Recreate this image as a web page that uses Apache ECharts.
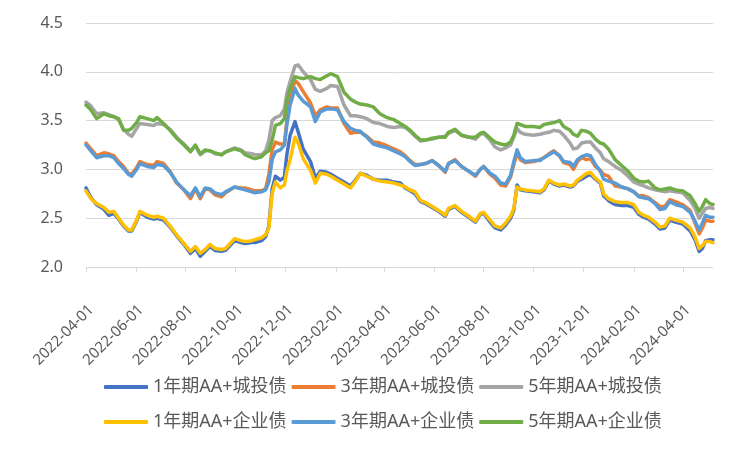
<!DOCTYPE html>
<html><head><meta charset="utf-8">
<script src="https://cdn.jsdelivr.net/npm/echarts@6/dist/echarts.min.js"></script>
<style>html,body{margin:0;padding:0;background:#fff}#c{width:751px;height:451px}</style>
</head><body><div id="c"></div>
<script>
const dates = ['2022-04-01','2022-04-07','2022-04-14','2022-04-23','2022-04-29','2022-05-05','2022-05-11','2022-05-17','2022-05-23','2022-05-27',
'2022-06-02','2022-06-06','2022-06-15','2022-06-23','2022-06-27','2022-07-05','2022-07-13','2022-07-21','2022-07-30','2022-08-01',
'2022-08-07','2022-08-13','2022-08-19','2022-08-25','2022-08-31','2022-09-06','2022-09-14','2022-09-19','2022-09-30','2022-10-08',
'2022-10-13','2022-10-21','2022-10-25','2022-11-02','2022-11-07','2022-11-11','2022-11-15','2022-11-19','2022-11-25','2022-11-30',
'2022-12-03','2022-12-07','2022-12-13','2022-12-17','2022-12-23','2023-01-01','2023-01-07','2023-01-13','2023-01-21','2023-01-26',
'2023-02-03','2023-02-11','2023-02-19','2023-02-25','2023-03-03','2023-03-11','2023-03-19','2023-03-27','2023-04-05','2023-04-13',
'2023-04-21','2023-04-27','2023-05-03','2023-05-09','2023-05-16','2023-05-22','2023-05-30','2023-06-07','2023-06-15','2023-06-19',
'2023-06-27','2023-07-05','2023-07-14','2023-07-22','2023-07-28','2023-08-01','2023-08-09','2023-08-15','2023-08-22','2023-08-28',
'2023-09-03','2023-09-07','2023-09-11','2023-09-15','2023-09-21','2023-10-01','2023-10-09','2023-10-14','2023-10-20','2023-10-26',
'2023-11-02','2023-11-07','2023-11-15','2023-11-19','2023-11-24','2023-11-29','2023-12-05','2023-12-10','2023-12-16','2023-12-22',
'2023-12-26','2024-01-01','2024-01-09','2024-01-17','2024-01-25','2024-02-01','2024-02-07','2024-02-13','2024-02-19','2024-02-27',
'2024-03-04','2024-03-10','2024-03-16','2024-03-23','2024-04-01','2024-04-10','2024-04-16','2024-04-21','2024-04-25','2024-04-29',
'2024-05-04','2024-05-08'];

const chengtou1Y = [2.81,2.71,2.64,2.59,2.53,2.55,2.49,2.42,2.37,2.37,
2.47,2.56,2.51,2.49,2.50,2.48,2.41,2.32,2.23,2.21,
2.14,2.19,2.11,2.16,2.21,2.17,2.16,2.17,2.27,2.25,
2.24,2.25,2.25,2.27,2.31,2.42,2.80,2.93,2.89,2.92,
3.15,3.35,3.49,3.38,3.21,3.08,2.91,2.98,2.97,2.95,
2.91,2.87,2.83,2.89,2.96,2.94,2.90,2.89,2.89,2.87,
2.86,2.81,2.78,2.75,2.67,2.65,2.61,2.57,2.52,2.59,
2.62,2.56,2.51,2.46,2.54,2.55,2.46,2.40,2.38,2.43,
2.50,2.58,2.84,2.79,2.78,2.77,2.76,2.79,2.88,2.85,
2.83,2.84,2.82,2.83,2.88,2.90,2.93,2.95,2.90,2.86,
2.73,2.68,2.64,2.63,2.63,2.61,2.54,2.51,2.49,2.44,
2.39,2.40,2.48,2.46,2.44,2.37,2.28,2.16,2.19,2.27,
2.28,2.28];
const chengtou3Y = [3.27,3.21,3.14,3.17,3.16,3.14,3.08,3.03,2.96,2.95,
3.02,3.08,3.05,3.04,3.08,3.06,2.98,2.86,2.79,2.77,
2.70,2.80,2.70,2.80,2.79,2.74,2.72,2.76,2.82,2.81,
2.81,2.79,2.78,2.78,2.80,2.95,3.20,3.28,3.26,3.26,
3.50,3.72,3.91,3.88,3.80,3.68,3.55,3.61,3.64,3.63,
3.63,3.47,3.37,3.38,3.38,3.34,3.28,3.27,3.24,3.21,
3.18,3.14,3.09,3.05,3.05,3.06,3.09,3.04,2.97,3.06,
3.10,3.03,2.98,2.93,3.00,3.03,2.95,2.91,2.84,2.83,
2.92,3.05,3.17,3.10,3.07,3.08,3.10,3.12,3.16,3.19,
3.14,3.07,3.05,3.00,3.08,3.12,3.10,3.11,3.03,2.99,
2.95,2.93,2.83,2.82,2.80,2.77,2.73,2.73,2.71,2.66,
2.62,2.62,2.69,2.67,2.64,2.58,2.45,2.34,2.40,2.48,
2.47,2.47];
const chengtou5Y = [3.69,3.65,3.57,3.58,3.56,3.54,3.51,3.41,3.36,3.34,
3.42,3.47,3.46,3.45,3.47,3.46,3.41,3.33,3.26,3.25,
3.19,3.24,3.15,3.19,3.19,3.16,3.15,3.18,3.22,3.20,
3.17,3.16,3.15,3.15,3.19,3.30,3.50,3.53,3.55,3.62,
3.78,3.90,4.06,4.07,4.00,3.92,3.82,3.80,3.83,3.86,
3.85,3.66,3.55,3.55,3.54,3.52,3.48,3.47,3.44,3.43,
3.44,3.43,3.39,3.34,3.29,3.30,3.31,3.33,3.34,3.37,
3.40,3.35,3.33,3.31,3.36,3.37,3.30,3.23,3.20,3.22,
3.25,3.33,3.42,3.38,3.36,3.35,3.36,3.37,3.38,3.40,
3.39,3.35,3.27,3.21,3.22,3.27,3.28,3.28,3.22,3.17,
3.11,3.08,3.03,2.99,2.93,2.87,2.85,2.83,2.81,2.79,
2.78,2.77,2.78,2.77,2.76,2.68,2.60,2.50,2.55,2.60,
2.61,2.60];
const qiye1Y = [2.78,2.70,2.65,2.61,2.56,2.57,2.50,2.43,2.38,2.38,
2.48,2.57,2.53,2.51,2.52,2.50,2.42,2.33,2.24,2.22,
2.16,2.21,2.14,2.18,2.23,2.19,2.18,2.19,2.29,2.27,
2.26,2.27,2.28,2.30,2.33,2.40,2.75,2.87,2.81,2.84,
2.98,3.10,3.33,3.27,3.11,2.99,2.86,2.96,2.95,2.93,
2.89,2.85,2.81,2.88,2.96,2.93,2.90,2.88,2.87,2.86,
2.84,2.82,2.79,2.77,2.68,2.66,2.62,2.58,2.53,2.60,
2.63,2.57,2.52,2.47,2.55,2.56,2.48,2.42,2.40,2.45,
2.52,2.60,2.82,2.80,2.79,2.78,2.77,2.80,2.89,2.86,
2.84,2.85,2.83,2.84,2.89,2.92,2.96,2.97,2.91,2.87,
2.75,2.70,2.67,2.66,2.66,2.64,2.56,2.53,2.51,2.46,
2.41,2.42,2.50,2.48,2.46,2.40,2.31,2.19,2.22,2.26,
2.26,2.25];
const qiye3Y = [3.25,3.19,3.12,3.14,3.14,3.12,3.06,3.01,2.95,2.93,
3.00,3.06,3.03,3.02,3.05,3.04,2.97,2.87,2.79,2.79,
2.73,2.81,2.72,2.81,2.80,2.76,2.74,2.77,2.82,2.80,
2.79,2.77,2.76,2.77,2.79,2.87,3.10,3.18,3.20,3.25,
3.45,3.66,3.83,3.76,3.70,3.64,3.49,3.59,3.62,3.62,
3.61,3.49,3.42,3.40,3.39,3.33,3.26,3.24,3.22,3.19,
3.16,3.13,3.08,3.04,3.05,3.06,3.09,3.04,2.98,3.06,
3.09,3.03,2.98,2.94,3.00,3.03,2.96,2.93,2.86,2.85,
2.94,3.08,3.20,3.12,3.08,3.09,3.09,3.12,3.15,3.18,
3.14,3.08,3.07,3.03,3.10,3.13,3.15,3.14,3.05,2.98,
2.90,2.88,2.86,2.82,2.80,2.77,2.72,2.71,2.70,2.65,
2.59,2.60,2.67,2.64,2.62,2.56,2.47,2.38,2.45,2.53,
2.51,2.51];
const qiye5Y = [3.66,3.61,3.52,3.57,3.55,3.54,3.52,3.40,3.40,3.42,
3.48,3.54,3.52,3.50,3.53,3.47,3.40,3.32,3.25,3.23,
3.18,3.25,3.16,3.20,3.19,3.17,3.15,3.18,3.21,3.19,
3.15,3.12,3.11,3.13,3.17,3.19,3.30,3.45,3.47,3.52,
3.70,3.83,3.95,3.94,3.93,3.95,3.93,3.92,3.96,3.98,
3.95,3.79,3.72,3.69,3.67,3.66,3.64,3.57,3.53,3.51,
3.47,3.44,3.40,3.35,3.30,3.30,3.32,3.33,3.33,3.38,
3.41,3.35,3.33,3.33,3.37,3.38,3.32,3.28,3.26,3.25,
3.28,3.35,3.47,3.46,3.44,3.44,3.43,3.46,3.47,3.48,
3.50,3.44,3.40,3.36,3.34,3.40,3.39,3.37,3.31,3.27,
3.26,3.21,3.10,3.04,2.98,2.91,2.88,2.87,2.88,2.81,
2.79,2.80,2.81,2.79,2.78,2.73,2.65,2.57,2.62,2.69,
2.65,2.64];

const seriesNames = ['1年期AA+城投债','3年期AA+城投债','5年期AA+城投债','1年期AA+企业债','3年期AA+企业债','5年期AA+企业债'];
const seriesValues = [chengtou1Y, chengtou3Y, chengtou5Y, qiye1Y, qiye3Y, qiye5Y];
const seriesColors = ['#4472C4','#ED7D31','#A5A5A5','#FFC000','#5B9BD5','#70AD47'];
const xTickLabels = ['2022-04-01','2022-06-01','2022-08-01','2022-10-01','2022-12-01','2023-02-01','2023-04-01',
'2023-06-01','2023-08-01','2023-10-01','2023-12-01','2024-02-01','2024-04-01'];
const xStart = '2022-04-01', xEnd = '2024-05-08';
const yMin = 2.0, yMax = 4.5, yStep = 0.5;

function ts(s) { const p = s.split('-').map(Number); return new Date(p[0], p[1] - 1, p[2]).getTime(); }
function pad(n) { return (n < 10 ? '0' : '') + n; }
function fmt(v) { const d = new Date(v); return d.getFullYear() + '-' + pad(d.getMonth() + 1) + '-' + pad(d.getDate()); }

const textColor = '#595959';
const font = '"Noto Sans", "Noto Sans CJK SC", sans-serif';
const tickValues = xTickLabels.map(ts);

function legendData(names) {
  return names.map(n => ({ name: n, icon: 'roundRect', itemStyle: { color: seriesColors[seriesNames.indexOf(n)] } }));
}

const chart = echarts.init(document.getElementById('c'), null, { renderer: 'canvas' });
chart.setOption({
  animation: false,
  backgroundColor: '#ffffff',
  grid: { left: 86, right: 38, top: 23, bottom: 184, containLabel: false },
  xAxis: {
    type: 'value',
    min: ts(xStart), max: ts(xEnd),
    axisLine: { show: true, lineStyle: { color: '#d9d9d9', width: 1 } },
    axisTick: { show: true, inside: false, length: 5, customValues: tickValues, lineStyle: { color: '#d9d9d9' } },
    axisLabel: {
      customValues: tickValues, formatter: v => fmt(v), rotate: 45, margin: 35,
      verticalAlign: 'top', color: textColor, fontSize: 15, fontFamily: font, hideOverlap: false,
      showMinLabel: true, showMaxLabel: true
    },
    splitLine: { show: false }
  },
  yAxis: {
    type: 'value', min: yMin, max: yMax, interval: yStep,
    axisLine: { show: false }, axisTick: { show: false },
    axisLabel: { formatter: v => v.toFixed(1), color: textColor, fontSize: 16, fontFamily: font, margin: 23 },
    splitLine: { lineStyle: { color: '#d9d9d9', width: 1 } }
  },
  legend: [
    { data: legendData(seriesNames.slice(0, 3)), left: 104, top: 378, padding: 0, itemWidth: 44, itemHeight: 4, itemGap: 5,
      textStyle: { color: textColor, fontSize: 18, fontFamily: font } },
    { data: legendData(seriesNames.slice(3, 6)), left: 104, top: 413, padding: 0, itemWidth: 44, itemHeight: 4, itemGap: 5,
      textStyle: { color: textColor, fontSize: 18, fontFamily: font } }
  ],
  series: seriesNames.map((name, i) => ({
    name, type: 'line', showSymbol: false, symbol: 'none',
    data: dates.map((d, j) => [ts(d), seriesValues[i][j]]),
    lineStyle: { color: seriesColors[i], width: 3.5, join: 'round', cap: 'round' },
    itemStyle: { color: seriesColors[i] },
    emphasis: { disabled: true }
  }))
});
</script></body></html>
